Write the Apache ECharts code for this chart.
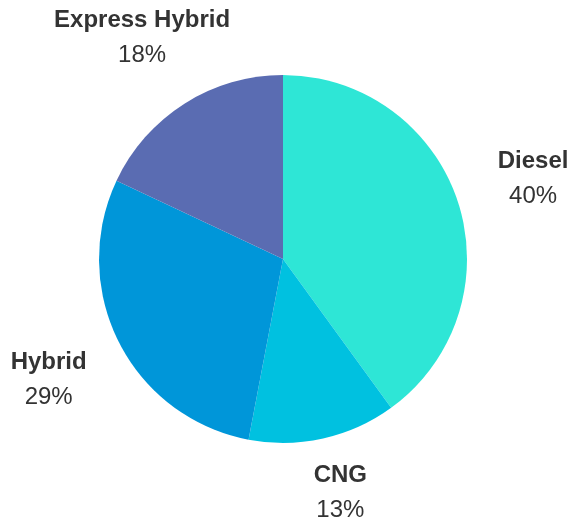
<!DOCTYPE html>
<head>
    <meta charset="utf-8"/>
    <style>
        html,body { height:100%; width:100%; margin:0; padding:0; background:#fff; }
    </style>
</head>
<body>
<div id="pie" style="width:575px;height:518px"></div>

<script src="https://cdn.jsdelivr.net/npm/echarts@6/dist/echarts.min.js"></script>
<script type="text/javascript">

 // data
 var names = ['Diesel', 'CNG', 'Hybrid', 'Express Hybrid'];
 var shares = [40, 13, 29, 18];
 var colors = ['#2ee6d6', '#00c1e0', '#0096d9', '#5a6cb2'];

 var myPieChart = echarts.init(document.getElementById('pie'));

 var pieData = names.map(function (n, i) {
     return { name: n, value: shares[i], itemStyle: { color: colors[i] } };
 });

 var pieOptions = {
    animation: false,
    textStyle: { fontFamily: '"Liberation Sans", Arial, sans-serif' },
    series: [
        {
            type: 'pie',
            center: [283, 259],
            radius: 184,
            startAngle: 90,
            clockwise: true,
            silent: true,
            label: { show: false },
            labelLine: { show: false },
            data: pieData
        },
        {
            // invisible ring, only carries the labels
            type: 'pie',
            center: [283, 260],
            radius: [238, 282],
            startAngle: 90,
            clockwise: true,
            silent: true,
            itemStyle: { color: 'rgba(0,0,0,0)' },
            labelLine: { show: false },
            label: {
                show: true,
                position: 'inside',
                formatter: '{n|{b}}\n{p|{c}%}',
                rich: {
                    n: { fontSize: 24, fontWeight: 'bold', color: '#333', lineHeight: 35, align: 'center' },
                    p: { fontSize: 24, color: '#333', lineHeight: 35, align: 'center' }
                }
            },
            labelLayout: function (params) {
                // keep labels inside the canvas (lineHeight leaves a few px of slack)
                var r = params.labelRect;
                var H = myPieChart.getHeight() + 4;
                if (r.y + r.height > H) {
                    return { dy: H - r.y - r.height };
                }
                return {};
            },
            data: names.map(function (n, i) { return { name: n, value: shares[i] }; })
        }
    ]
 };

 myPieChart.setOption(pieOptions);
</script>
</body>
